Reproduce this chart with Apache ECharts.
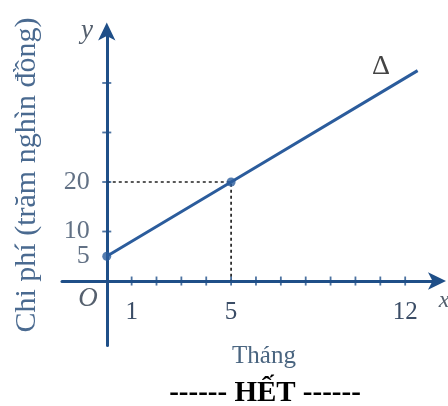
<!DOCTYPE html>
<html>
<head>
<meta charset="utf-8">
<script src="https://cdn.jsdelivr.net/npm/echarts@6/dist/echarts.min.js"></script>
<style>
  html, body { margin: 0; padding: 0; background: #ffffff; }
  #chart { width: 448px; height: 406px; }
</style>
</head>
<body>
<div id="chart"></div>
<script>
// Cost line Δ: y = 5 + 3x (hundreds of thousands of dong), x in months
const lineX = [0, 5, 12.5];
const lineY = [5, 20, 42.5];
// Highlighted points on the line
const pointX = [0, 5];
const pointY = [5, 20];
// Dotted guide from (0,20) to (5,20) down to (5,0)
const guideX = [0, 5, 5];
const guideY = [20, 20, 0];
// Axis ticks and labels
const xTicks = [1, 2, 3, 4, 5, 6, 7, 8, 9, 10, 11, 12];
const xLabels = [1, 5, 12];
const yTicks = [10, 20, 30, 40];
const yLabels = [5, 10, 20];

const AXIS = '#1f4f88';
const LINE = '#2b5c9c';
const TEXT = '#3b4d66';
const SERIF = '"Liberation Serif", "DejaVu Serif", serif';

const chart = echarts.init(document.getElementById('chart'));

const zip = (a, b) => a.map((v, i) => [v, b[i]]);

chart.setOption({
  animation: false,
  grid: { left: 62, right: 8, top: 28.5, bottom: 60.6, containLabel: false },
  xAxis: {
    type: 'value', min: -1.8, max: 13.4,
    axisLine: { onZero: true, lineStyle: { color: AXIS, width: 3 },
      symbol: ['none', 'arrow'], symbolSize: [13, 18], symbolOffset: [0, 6] },
    axisTick: { show: false },
    splitLine: { show: false },
    // labels sit just under the zero line rather than the grid edge
    axisLabel: { customValues: xLabels, margin: -45, fontFamily: SERIF, fontSize: 25, color: TEXT,
                 hideOverlap: false }
  },
  yAxis: {
    type: 'value', min: -13, max: 51,
    axisLine: { onZero: true, lineStyle: { color: AXIS, width: 3 },
      symbol: ['none', 'arrow'], symbolSize: [13, 18], symbolOffset: [0, 6] },
    axisTick: { show: false },
    splitLine: { show: false },
    axisLabel: { show: false }
  },
  series: [
    {
      type: 'line', data: zip(guideX, guideY), symbol: 'none', silent: true,
      lineStyle: { color: '#222', width: 1.7, type: [3, 3] }, z: 1
    },
    {
      type: 'line', data: zip(lineX, lineY), symbol: 'none', silent: true,
      lineStyle: { color: LINE, width: 3 }, z: 3
    },
    {
      type: 'scatter', data: zip(pointX, pointY), symbol: 'circle', symbolSize: 9,
      itemStyle: { color: LINE }, z: 4, silent: true
    },
    {
      type: 'scatter', data: xTicks.map(v => [v, 0]), symbol: 'rect', symbolSize: [1.8, 9],
      itemStyle: { color: AXIS }, z: 2, silent: true
    },
    {
      type: 'scatter', data: yTicks.map(v => [0, v]), symbol: 'rect', symbolSize: [9, 1.8],
      itemStyle: { color: AXIS }, z: 2, silent: true
    },
    {
      // value labels along the y axis
      type: 'scatter', data: yLabels.map(v => [0, v]), symbolSize: 0, silent: true, z: 5,
      label: { show: true, position: 'left', distance: 17, formatter: p => String(p.value[1]),
               fontFamily: SERIF, fontSize: 26, color: TEXT }
    }
  ],
  graphic: [
    { type: 'text', x: 27, y: 175, rotation: Math.PI / 2,
      style: { text: 'Chi phí (trăm nghìn đồng)', font: '30px ' + SERIF, fill: '#4a6a90',
               align: 'center', verticalAlign: 'middle' } },
    { type: 'text', x: 87, y: 31, style: { text: 'y', font: 'italic 27px ' + SERIF, fill: '#55606e', align: 'center', verticalAlign: 'middle' } },
    { type: 'text', x: 444, y: 301, style: { text: 'x', font: 'italic 24px ' + SERIF, fill: '#55606e', align: 'center', verticalAlign: 'middle' } },
    { type: 'text', x: 88, y: 299, style: { text: 'O', font: 'italic 27px ' + SERIF, fill: '#55606e', align: 'center', verticalAlign: 'middle' } },
    { type: 'text', x: 381, y: 67, style: { text: 'Δ', font: '28px ' + SERIF, fill: '#444', align: 'center', verticalAlign: 'middle' } },
    { type: 'text', x: 264, y: 356, style: { text: 'Tháng', font: '25px ' + SERIF, fill: '#4a6580', align: 'center', verticalAlign: 'middle' } },
    { type: 'text', x: 265, y: 394, style: { text: '------ HẾT ------', font: 'bold 29px ' + SERIF, fill: '#000', align: 'center', verticalAlign: 'middle' } }
  ]
});
</script>
</body>
</html>
